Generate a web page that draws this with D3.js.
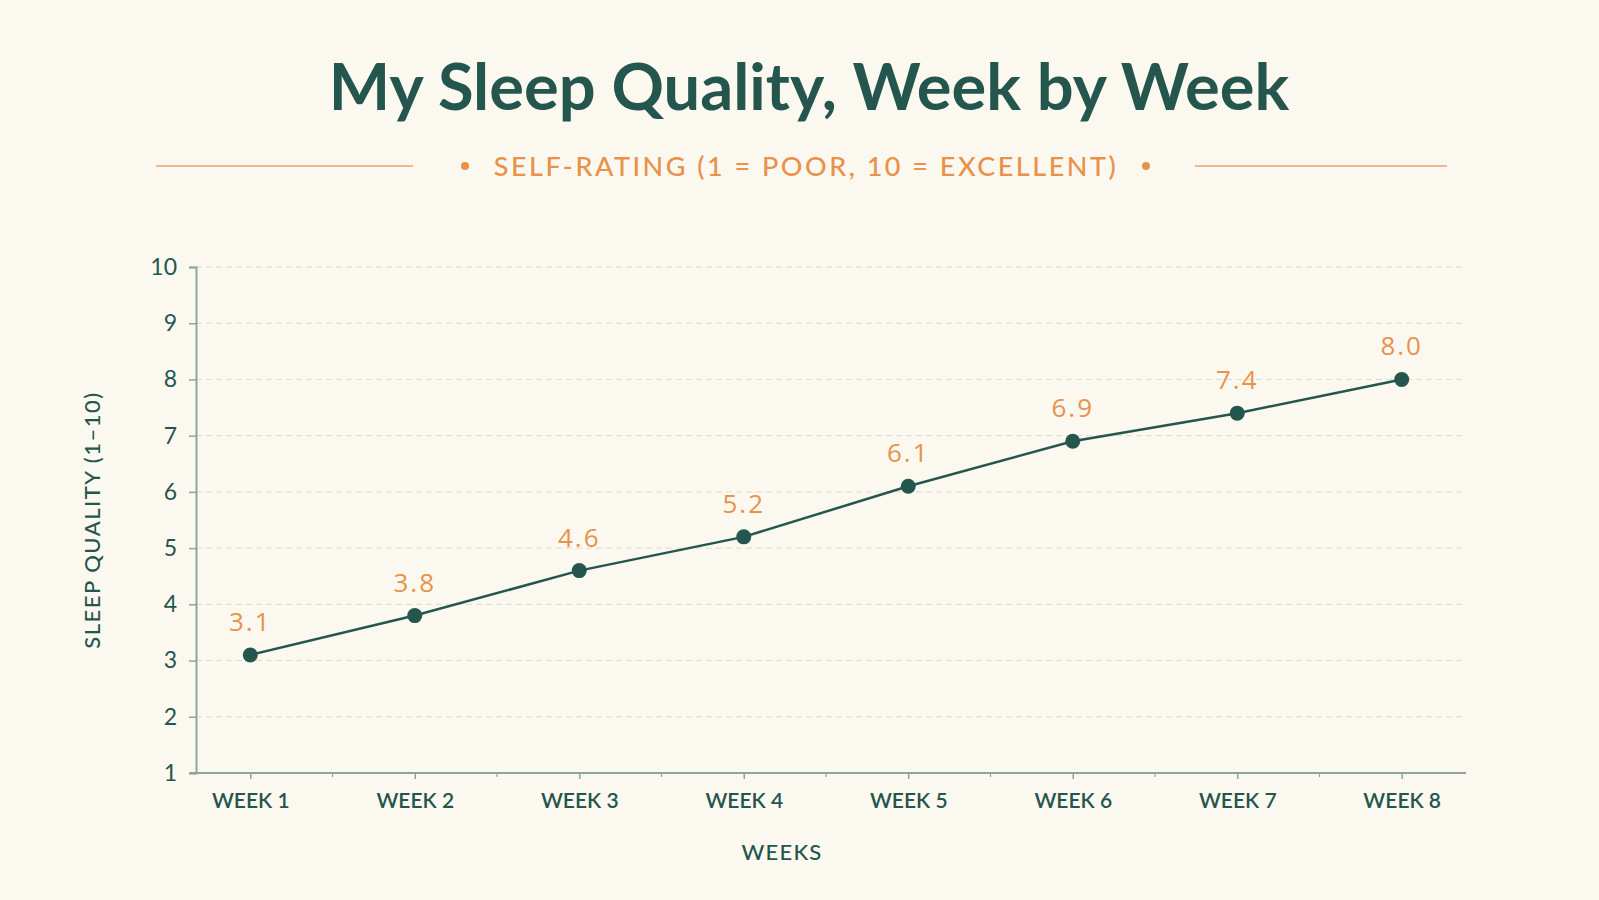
<!DOCTYPE html>
<html>
<head>
<meta charset="utf-8">
<script src="https://cdn.jsdelivr.net/npm/d3@7"></script>
<style>
  html, body { margin: 0; padding: 0; background: #fbf8f0; }
  svg { display: block; }
</style>
</head>
<body>
<div id="chart"></div>
<script>
// data
const weeks = ['WEEK 1', 'WEEK 2', 'WEEK 3', 'WEEK 4', 'WEEK 5', 'WEEK 6', 'WEEK 7', 'WEEK 8'];
const sleepScores = [3.1, 3.8, 4.6, 5.2, 6.1, 6.9, 7.4, 8.0];
const yTicks = [1, 2, 3, 4, 5, 6, 7, 8, 9, 10];

const width = 1599, height = 900;
const teal = '#24564d';
const orange = '#e8924a';
const font = 'Lato, "Open Sans", sans-serif';

const svg = d3.select('#chart').append('svg')
  .attr('width', width)
  .attr('height', height);

svg.append('rect').attr('width', width).attr('height', height).attr('fill', '#fbf8f0');

// scales
const plotLeft = 196, plotRight = 1466, plotTop = 267, plotBottom = 773;
const x = d3.scalePoint().domain(weeks).range([plotLeft, 1456]).padding(0.33);
const y = d3.scaleLinear().domain([1, 10]).range([plotBottom, plotTop]);

// title + subtitle
svg.append('text')
  .attr('x', 809).attr('y', 110)
  .attr('text-anchor', 'middle')
  .attr('font-family', font).attr('font-weight', 700)
  .attr('font-size', 65).attr('fill', teal)
  .text('My Sleep Quality, Week by Week');

const sub = svg.append('g');
sub.append('text')
  .attr('x', 806).attr('y', 176)
  .attr('text-anchor', 'middle')
  .attr('font-family', font).attr('font-weight', 500)
  .attr('font-size', 27).attr('letter-spacing', 2.5)
  .attr('fill', orange)
  .text('SELF-RATING (1 = POOR, 10 = EXCELLENT)');
sub.selectAll('circle').data([465, 1146]).join('circle')
  .attr('cx', d => d).attr('cy', 166).attr('r', 4).attr('fill', orange);
sub.selectAll('line').data([[156, 413], [1195, 1447]]).join('line')
  .attr('x1', d => d[0]).attr('x2', d => d[1])
  .attr('y1', 166).attr('y2', 166)
  .attr('stroke', orange).attr('stroke-width', 1.5).attr('opacity', 0.8);

// gridlines
svg.append('g')
  .selectAll('line').data(yTicks.slice(1)).join('line')
  .attr('x1', plotLeft).attr('x2', plotRight)
  .attr('y1', d => y(d)).attr('y2', d => y(d))
  .attr('stroke', '#dedad0').attr('stroke-width', 1)
  .attr('stroke-dasharray', '6,4');

// y axis
const yAxis = svg.append('g')
  .attr('transform', `translate(${plotLeft},0)`)
  .call(d3.axisLeft(y).tickValues(yTicks).tickSize(7).tickPadding(12).tickFormat(d3.format('d')));
yAxis.select('.domain').attr('stroke', '#8ea59c').attr('stroke-width', 2);
yAxis.selectAll('.tick line').attr('stroke', '#8ea59c').attr('stroke-width', 1.5);
yAxis.selectAll('.tick text')
  .attr('font-family', font).attr('font-size', 23).attr('fill', teal);

// x axis
const xAxis = svg.append('g')
  .attr('transform', `translate(0,${plotBottom})`)
  .call(d3.axisBottom(x).tickSize(6).tickPadding(14));
xAxis.select('.domain').remove();
xAxis.append('line')
  .attr('x1', plotLeft - 6).attr('x2', plotRight)
  .attr('stroke', '#8ea59c').attr('stroke-width', 2);
xAxis.selectAll('.tick line').attr('stroke', '#8ea59c').attr('stroke-width', 1.5);
xAxis.selectAll('.tick text')
  .attr('font-family', font).attr('font-weight', 600)
  .attr('font-size', 21).attr('fill', teal);
// minor ticks between weeks
const mids = d3.pairs(weeks).map(([a, b]) => (x(a) + x(b)) / 2);
xAxis.append('g').selectAll('line').data(mids).join('line')
  .attr('x1', d => d).attr('x2', d => d)
  .attr('y1', 0).attr('y2', 4)
  .attr('stroke', '#8ea59c').attr('stroke-width', 1.2);

// axis titles
svg.append('text')
  .attr('x', 782).attr('y', 860)
  .attr('text-anchor', 'middle')
  .attr('font-family', font).attr('font-weight', 500)
  .attr('font-size', 22).attr('letter-spacing', 1.2).attr('fill', teal)
  .text('WEEKS');
svg.append('text')
  .attr('transform', 'translate(100,520) rotate(-90)')
  .attr('text-anchor', 'middle')
  .attr('font-family', font).attr('font-weight', 500)
  .attr('font-size', 22).attr('letter-spacing', 1.5).attr('fill', teal)
  .text('SLEEP QUALITY (1–10)');

// line + points
const line = d3.line()
  .x((d, i) => x(weeks[i]))
  .y(d => y(d));

svg.append('path')
  .datum(sleepScores)
  .attr('d', line)
  .attr('fill', 'none')
  .attr('stroke', teal).attr('stroke-width', 2.5);

svg.append('g')
  .selectAll('circle').data(sleepScores).join('circle')
  .attr('cx', (d, i) => x(weeks[i]))
  .attr('cy', d => y(d))
  .attr('r', 7.5)
  .attr('fill', teal);

svg.append('g')
  .selectAll('text').data(sleepScores).join('text')
  .attr('x', (d, i) => x(weeks[i]))
  .attr('y', d => y(d) - 24)
  .attr('text-anchor', 'middle')
  .attr('font-family', '"Open Sans", sans-serif')
  .attr('font-weight', 400)
  .attr('font-size', 26)
  .attr('letter-spacing', 2)
  .attr('fill', orange)
  .text(d => d.toFixed(1));
</script>
</body>
</html>
